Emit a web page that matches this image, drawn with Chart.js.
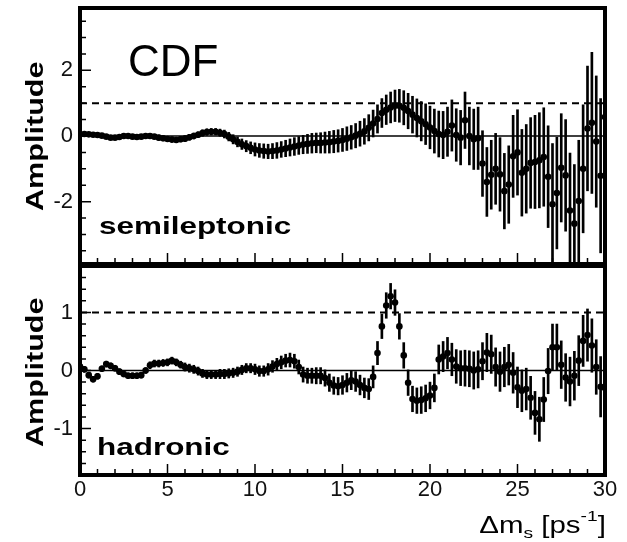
<!DOCTYPE html>
<html>
<head>
<meta charset="utf-8">
<script src="https://cdn.jsdelivr.net/npm/chart.js@4.4.0/dist/chart.umd.min.js"></script>
<style>
body { margin:0; background:#fff; }
#wrap { position:relative; width:627px; height:542px; overflow:hidden; font-family:"Liberation Sans", Arial, sans-serif; color:#000; }
.box { position:absolute; left:0; width:627px; }
.lbl { position:absolute; white-space:nowrap; line-height:1; }
.bold { font-weight:bold; }
</style>
</head>
<body>
<div id="wrap">
  <div class="box" style="top:0;height:268px"><canvas id="semiChart"></canvas></div>
  <div class="box" style="top:262px;height:280px"><canvas id="hadChart"></canvas></div>
  <div class="lbl" style="left:128px;top:39px;font-size:44px">CDF</div>
  <div class="lbl bold" style="left:99px;top:214px;font-size:24px;transform-origin:0 0;transform:scaleX(1.31)">semileptonic</div>
  <div class="lbl bold" style="left:97px;top:435px;font-size:24px;transform-origin:0 0;transform:scaleX(1.31)">hadronic</div>
  <div class="lbl bold" style="left:24px;top:211px;font-size:23px;transform-origin:0 0;transform:rotate(-90deg) scaleX(1.33)">Amplitude</div>
  <div class="lbl bold" style="left:24px;top:447px;font-size:23px;transform-origin:0 0;transform:rotate(-90deg) scaleX(1.33)">Amplitude</div>
  <div class="lbl" style="right:21px;top:514px;font-size:23px;transform-origin:100% 0;transform:scaleX(1.28)">&Delta;m<span style="font-size:15px;position:relative;top:5px">s</span> [ps<span style="font-size:15px;position:relative;top:-12px">-1</span>]</div>
</div>
<script>
// scan points in Delta m_s [ps^-1]
var dms = [
  0, 0.25, 0.5, 0.75, 1, 1.25, 1.5, 1.75, 2, 2.25, 2.5, 2.75,
  3, 3.25, 3.5, 3.75, 4, 4.25, 4.5, 4.75, 5, 5.25, 5.5, 5.75,
  6, 6.25, 6.5, 6.75, 7, 7.25, 7.5, 7.75, 8, 8.25, 8.5, 8.75,
  9, 9.25, 9.5, 9.75, 10, 10.25, 10.5, 10.75, 11, 11.25, 11.5, 11.75,
  12, 12.25, 12.5, 12.75, 13, 13.25, 13.5, 13.75, 14, 14.25, 14.5, 14.75,
  15, 15.25, 15.5, 15.75, 16, 16.25, 16.5, 16.75, 17, 17.25, 17.5, 17.75,
  18, 18.25, 18.5, 18.75, 19, 19.25, 19.5, 19.75, 20, 20.25, 20.5, 20.75,
  21, 21.25, 21.5, 21.75, 22, 22.25, 22.5, 22.75, 23, 23.25, 23.5, 23.75,
  24, 24.25, 24.5, 24.75, 25, 25.25, 25.5, 25.75, 26, 26.25, 26.5, 26.75,
  27, 27.25, 27.5, 27.75, 28, 28.25, 28.5, 28.75, 29, 29.25, 29.5, 29.75, 30
];

// semileptonic amplitude and its error
var semiAmp = [
  0.05, 0.06, 0.05, 0.04, 0.03, 0.01, -0.02, -0.05,
  -0.05, -0.03, 0.00, 0.00, -0.02, -0.03, -0.02, 0.00,
  0.00, -0.02, -0.05, -0.07, -0.09, -0.11, -0.12, -0.10,
  -0.08, -0.04, 0.00, 0.04, 0.09, 0.12, 0.13, 0.13,
  0.10, 0.06, -0.02, -0.10, -0.18, -0.25, -0.31, -0.36,
  -0.41, -0.44, -0.46, -0.47, -0.46, -0.44, -0.41, -0.38,
  -0.35, -0.32, -0.29, -0.26, -0.24, -0.22, -0.21, -0.21,
  -0.20, -0.19, -0.17, -0.15, -0.12, -0.08, -0.04, 0.01,
  0.07, 0.14, 0.25, 0.38, 0.52, 0.70, 0.80, 0.87,
  0.92, 0.92, 0.86, 0.76, 0.65, 0.55, 0.45, 0.36,
  0.26, 0.15, 0.06, 0.03, 0.13, 0.32, 0.03, -0.05,
  0.48, 0.00, -0.10, -0.07, -0.84, -1.40, -1.18, -1.00,
  -1.17, -1.68, -1.48, -0.62, -0.50, -1.12, -1.00, -0.82,
  -0.79, -0.74, -0.64, -1.24, -2.08, -1.74, -0.97, -1.20,
  -2.27, -2.67, -1.98, -1.00, 0.23, 0.40, -0.17, -1.21,
  0.58
];
var semiErr = [
  0.06, 0.06, 0.06, 0.06, 0.06, 0.06, 0.06, 0.06, 0.06, 0.06, 0.06, 0.06,
  0.07, 0.07, 0.07, 0.07, 0.07, 0.07, 0.08, 0.08, 0.08, 0.08, 0.08, 0.08,
  0.09, 0.09, 0.09, 0.09, 0.10, 0.10, 0.10, 0.10,
  0.11, 0.12, 0.13, 0.14, 0.15, 0.16, 0.17, 0.18,
  0.20, 0.21, 0.22, 0.22, 0.23, 0.24, 0.24, 0.25,
  0.26, 0.27, 0.27, 0.28, 0.29, 0.30, 0.30, 0.31,
  0.32, 0.33, 0.34, 0.34, 0.35, 0.36, 0.36, 0.37,
  0.38, 0.39, 0.40, 0.41, 0.43, 0.44, 0.45, 0.47,
  0.48, 0.50, 0.52, 0.54, 0.56, 0.58, 0.60, 0.62,
  0.65, 0.67, 0.70, 0.72, 0.75, 0.78, 0.80, 0.83,
  0.86, 0.88, 0.92, 0.95, 1.00, 1.05, 1.05, 1.08,
  1.12, 1.15, 1.18, 1.25, 1.30, 1.32, 1.35, 1.38,
  1.42, 1.45, 1.50, 1.55, 1.85, 1.70, 1.65, 1.70,
  1.75, 1.80, 1.85, 1.95, 1.90, 2.15, 2.00, 2.35,
  2.10
];

// hadronic amplitude and its error
var hadAmp = [
  0.07, 0.02, -0.08, -0.15, -0.10, 0.03, 0.11, 0.08,
  0.04, -0.02, -0.06, -0.09, -0.09, -0.09, -0.08, 0.00,
  0.09, 0.12, 0.12, 0.13, 0.14, 0.17, 0.14, 0.10,
  0.06, 0.04, 0.02, -0.01, -0.05, -0.07, -0.07, -0.07,
  -0.06, -0.06, -0.05, -0.04, -0.02, 0.01, 0.04, 0.04,
  0.02, -0.01, -0.01, 0.02, 0.07, 0.11, 0.14, 0.17,
  0.18, 0.16, 0.06, -0.07, -0.09, -0.09, -0.09, -0.09,
  -0.13, -0.21, -0.26, -0.27, -0.25, -0.21, -0.17, -0.19,
  -0.25, -0.30, -0.32, -0.11, 0.30, 0.76, 1.12, 1.28,
  1.17, 0.76, 0.26, -0.21, -0.49, -0.52, -0.51, -0.48,
  -0.43, -0.30, 0.19, 0.24, 0.30, 0.19, 0.07, 0.04,
  0.04, 0.03, 0.00, 0.02, 0.16, 0.31, 0.28, 0.06,
  -0.02, 0.06, 0.10, -0.04, -0.29, -0.35, -0.32, -0.47,
  -0.73, -0.84, -0.50, -0.01, 0.40, 0.40, 0.10, -0.12,
  -0.19, -0.09, 0.17, 0.51, 0.61, 0.43, 0.06, -0.28,
  -0.30
];
var hadErr = [
  0.05, 0.05, 0.05, 0.05, 0.05, 0.05, 0.05, 0.05,
  0.05, 0.05, 0.05, 0.05, 0.05, 0.05, 0.05, 0.05,
  0.06, 0.06, 0.06, 0.06, 0.06, 0.06, 0.06, 0.06,
  0.07, 0.07, 0.07, 0.07, 0.07, 0.07, 0.07, 0.07,
  0.08, 0.08, 0.08, 0.08, 0.08, 0.08, 0.08, 0.08,
  0.09, 0.09, 0.09, 0.10, 0.10, 0.10, 0.11, 0.11,
  0.12, 0.12, 0.12, 0.13, 0.13, 0.13, 0.14, 0.14,
  0.14, 0.15, 0.15, 0.15, 0.16, 0.16, 0.16, 0.17,
  0.17, 0.17, 0.18, 0.19, 0.20, 0.21, 0.22, 0.22,
  0.22, 0.22, 0.22, 0.22, 0.22, 0.22, 0.23, 0.23,
  0.23, 0.24, 0.25, 0.26, 0.27, 0.28, 0.29, 0.30,
  0.31, 0.31, 0.32, 0.32, 0.32, 0.33, 0.33, 0.33,
  0.34, 0.34, 0.35, 0.35, 0.35, 0.36, 0.36, 0.37,
  0.37, 0.38, 0.38, 0.39, 0.40, 0.40, 0.41, 0.41,
  0.42, 0.42, 0.43, 0.44, 0.45, 0.46, 0.47, 0.52,
  0.50
];

var xTicks = [0, 5, 10, 15, 20, 25, 30];
var semiTicks = [-2, 0, 2];
var hadTicks = [-1, 0, 1];
var refLevel = 1; // dashed line, amplitude = 1

var FONT = '"Liberation Sans", Arial, sans-serif';

function steps(from, to, step) {
  var out = [];
  for (var v = from; v <= to + 1e-9; v += step) out.push(Math.round(v * 100) / 100);
  return out;
}
function isIn(list, v) {
  for (var i = 0; i < list.length; i++) if (Math.abs(list[i] - v) < 1e-6) return true;
  return false;
}

// frame + inward ticks, ROOT style
var frameTicks = {
  id: 'frameTicks',
  afterDraw: function(chart, args, o) {
    var ctx = chart.ctx, a = chart.chartArea;
    var xs = chart.scales.x, ys = chart.scales.y;
    ctx.save();
    ctx.strokeStyle = '#000';
    ctx.lineWidth = 1.5;
    ctx.beginPath();
    o.yMinor.forEach(function(v) {
      var y = ys.getPixelForValue(v);
      var len = isIn(o.yMajor, v) ? 11 : 6;
      ctx.moveTo(a.left, y); ctx.lineTo(a.left + len, y);
    });
    o.xMinor.forEach(function(v) {
      var x = xs.getPixelForValue(v);
      var len = isIn(xTicks, v) ? 11 : 6;
      ctx.moveTo(x, a.bottom); ctx.lineTo(x, a.bottom - len);
    });
    ctx.stroke();
    ctx.lineWidth = 4;
    ctx.strokeRect(a.left, a.top, a.right - a.left, a.bottom - a.top);
    ctx.restore();
  }
};

function makeChart(id, amp, err, yMin, yMax, yTicks, yMinorStep, showX, pad) {
  var pts = [], bars = [];
  for (var i = 0; i < dms.length; i++) {
    pts.push({x: dms[i], y: amp[i]});
    bars.push({x: dms[i], y: [amp[i] - err[i], amp[i] + err[i]]});
  }
  return new Chart(document.getElementById(id), {
    type: 'scatter',
    data: {
      datasets: [{
        type: 'scatter',
        data: pts,
        pointRadius: 3.3,
        pointBackgroundColor: '#000',
        pointBorderWidth: 0
      }, {
        type: 'bar',
        data: bars,
        backgroundColor: '#000',
        barThickness: 2
      }, {
        type: 'line',
        data: [{x: 0, y: 0}, {x: 30, y: 0}],
        showLine: true,
        borderColor: '#000',
        borderWidth: 1.5,
        pointRadius: 0
      }, {
        type: 'line',
        data: [{x: 0, y: refLevel}, {x: 30, y: refLevel}],
        showLine: true,
        borderColor: '#000',
        borderWidth: 2,
        borderDash: [7, 5],
        pointRadius: 0
      }]
    },
    options: {
      responsive: true,
      maintainAspectRatio: false,
      animation: false,
      events: [],
      layout: { padding: pad },
      plugins: {
        legend: { display: false },
        tooltip: { enabled: false },
        frameTicks: {
          xMinor: steps(0, 30, 1),
          yMinor: steps(Math.ceil(yMin / yMinorStep) * yMinorStep, yMax, yMinorStep),
          yMajor: yTicks
        }
      },
      scales: {
        x: {
          type: 'linear', min: 0, max: 30, offset: false, display: showX,
          grid: { display: false, drawTicks: false, offset: false },
          border: { display: false },
          afterBuildTicks: function(s) { s.ticks = xTicks.map(function(v) { return {value: v}; }); },
          ticks: { color: '#111', font: { family: FONT, size: 22 }, padding: 2, maxRotation: 0, autoSkip: false },
          afterFit: function(s) { s.height = showX ? 67 : 0; s.paddingLeft = 0; s.paddingRight = 0; }
        },
        y: {
          type: 'linear', min: yMin, max: yMax,
          grid: { display: false, drawTicks: false },
          border: { display: false },
          afterBuildTicks: function(s) { s.ticks = yTicks.map(function(v) { return {value: v}; }); },
          ticks: { color: '#111', font: { family: FONT, size: 22 }, padding: 7 },
          afterFit: function(s) { s.width = 80; s.paddingTop = 0; s.paddingBottom = 0; }
        }
      }
    },
    plugins: [frameTicks]
  });
}

makeChart('semiChart', semiAmp, semiErr, -3.9, 3.9, semiTicks, 0.5, false, {top: 8, right: 22, bottom: 3, left: 0});
makeChart('hadChart', hadAmp, hadErr, -1.8, 1.8, hadTicks, 0.2, true, {top: 3, right: 22, bottom: 0, left: 0});
</script>
</body>
</html>
